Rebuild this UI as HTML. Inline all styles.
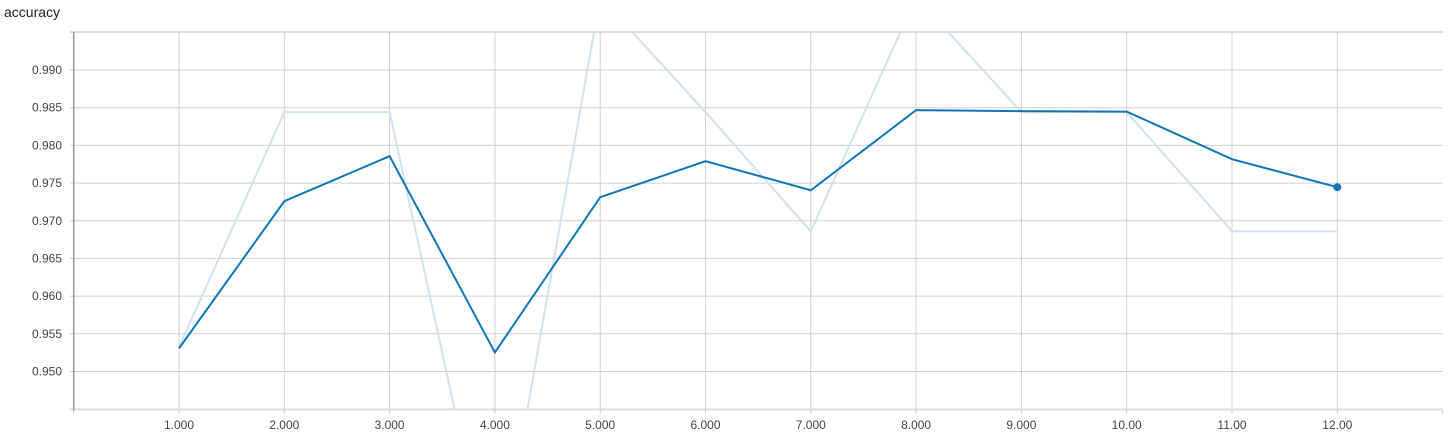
<!DOCTYPE html>
<html><head><meta charset="utf-8"><style>
html,body{margin:0;padding:0;background:#fff;width:1452px;height:435px;overflow:hidden;font-family:"Liberation Sans",sans-serif;position:relative}
#title{position:absolute;left:4px;top:4px;font-size:14px;line-height:16px;color:#212121}
svg{position:absolute;left:0;top:0;display:block}
</style></head><body>
<div id="title">accuracy</div>
<svg id="chart" width="1452" height="435"></svg>
<script>
const steps=[1,2,3,4,5,6,7,8,9,10,11,12];
const rawValues=[0.9532,0.98442,0.98442,0.9205,0.9997,0.98442,0.9686,0.9997,0.98442,0.98442,0.9686,0.9686];
const smoothValues=[0.95306,0.97259,0.97857,0.95252,0.97312,0.97791,0.97405,0.98468,0.98455,0.98449,0.97817,0.97445];
const yTicks=[0.950,0.955,0.960,0.965,0.970,0.975,0.980,0.985,0.990];
const yTickLabels=["0.950","0.955","0.960","0.965","0.970","0.975","0.980","0.985","0.990"];
const xTicks=[1,2,3,4,5,6,7,8,9,10,11,12];
const xTickLabels=["1.000","2.000","3.000","4.000","5.000","6.000","7.000","8.000","9.000","10.00","11.00","12.00"];
const NS="http://www.w3.org/2000/svg";
const L=73.7,R=1442.6,T=32,B=409.5;
const X0=0,X1=13,Y0=0.94495,Y1=0.99505;
const xs=v=>L+(v-X0)/(X1-X0)*(R-L);
const ys=v=>B-(v-Y0)/(Y1-Y0)*(B-T);
const svg=document.getElementById('chart');
function mk(tag,attrs,parent){const e=document.createElementNS(NS,tag);for(const k in attrs)e.setAttribute(k,attrs[k]);(parent||svg).appendChild(e);return e;}
const defs=mk('defs',{});
const cp=mk('clipPath',{id:'clip'},defs);mk('rect',{x:L,y:T,width:R-L,height:B-T},cp);
const grid=mk('g',{});


yTicks.forEach((t,i)=>{
  const y=ys(t);
  const ln=mk('line',{x1:70,x2:R,y1:y,y2:y,stroke:'#d0d0d0','stroke-width':1},grid);
  
  
  const tx=mk('text',{x:62,y:y+4,'text-anchor':'end','font-size':12,fill:'#444'});
  tx.textContent=yTickLabels[i];
  
  
});
mk('line',{x1:70,x2:R,y1:T,y2:T,stroke:'#ddd','stroke-width':2},grid);
mk('line',{x1:70,x2:R,y1:B,y2:B,stroke:'#ddd','stroke-width':2},grid);
for(let v=0;v<=13;v++){mk('line',{x1:xs(v),x2:xs(v),y1:B,y2:B+4,stroke:'#ccc'},grid);}
xTicks.forEach((t,i)=>{
  const x=xs(t);
  const ln=mk('line',{x1:x,x2:x,y1:T,y2:B,stroke:'#d0d0d0','stroke-width':1},grid);
  
  
  const tx=mk('text',{x:x,y:429,'text-anchor':'middle','font-size':12,fill:'#444'});
  tx.textContent=xTickLabels[i];
  
  
});
const ax=mk('line',{x1:L,x2:L,y1:T,y2:B+1,stroke:'#999','stroke-width':1.5});


const g=mk('g',{'clip-path':'url(#clip)'});
const raw=mk('polyline',{points:steps.map((s,i)=>xs(s)+','+ys(rawValues[i])).join(' '),fill:'none',stroke:'#cde3f0','stroke-width':2},g);


const sm=mk('polyline',{points:steps.map((s,i)=>xs(s)+','+ys(smoothValues[i])).join(' '),fill:'none',stroke:'#0f77b8','stroke-width':2},g);


const n=steps.length-1;
const dot=mk('circle',{cx:xs(steps[n]),cy:ys(smoothValues[n]),r:4,fill:'#0f77b8'});


</script>
</body></html>
